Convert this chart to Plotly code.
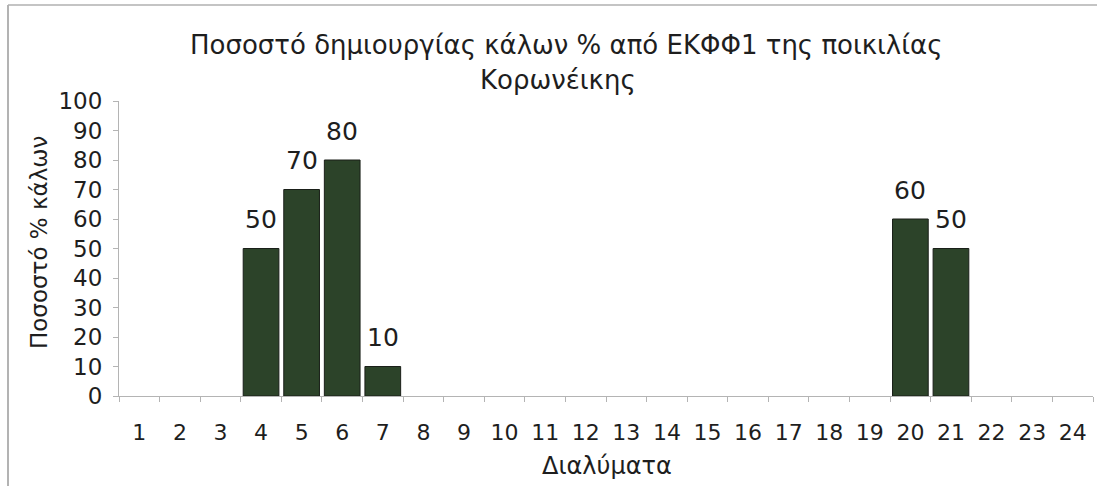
import plotly.graph_objects as go

# Solutions 1..24 and the percentage of callus formation for each
solutions = [str(i) for i in range(1, 25)]
callus_pct = [0, 0, 0, 50, 70, 80, 10, 0, 0, 0, 0, 0,
              0, 0, 0, 0, 0, 0, 0, 60, 50, 0, 0, 0]
y_ticks = list(range(0, 101, 10))

title_line1 = "Ποσοστό δημιουργίας κάλων % από ΕΚΦΦ1 της ποικιλίας"
title_line2 = "Κορωνέικης"
y_title = "Ποσοστό % κάλων"
x_title = "Διαλύματα"

W, H = 1105, 486
L, R, T, B = 119, 12, 101, 90
pw, ph = W - L - R, H - T - B

FONT = "DejaVu Sans, Verdana, sans-serif"
INK = "#1e1e1e"
AXIS = "#b4b4b4"

fig = go.Figure(
    go.Bar(
        x=solutions,
        y=callus_pct,
        marker=dict(
            color="#2c4329",
            line=dict(color="#1a1f19",
                      width=[1 if v else 0 for v in callus_pct]),
        ),
        width=0.88,
        hoverinfo="x+y",
    )
)

# Value labels above the non-zero bars (category axis: x is the category index)
for i, v in enumerate(callus_pct):
    if v:
        fig.add_annotation(x=i, y=v, text=str(v), showarrow=False,
                           xanchor="center", yanchor="middle", yshift=29,
                           font=dict(family=FONT, size=25, color=INK))

fig.update_layout(
    width=W,
    height=H,
    margin=dict(l=L, r=R, t=T, b=B),
    paper_bgcolor="white",
    plot_bgcolor="white",
    showlegend=False,
    font=dict(family=FONT, color=INK),
)

fig.update_xaxes(
    type="category",
    tickson="boundaries",
    ticks="outside",
    ticklen=5,
    tickcolor=AXIS,
    showline=True,
    linecolor=AXIS,
    linewidth=1,
    showgrid=False,
    tickfont=dict(family=FONT, size=22, color=INK),
    ticklabelstandoff=17,
)

fig.update_yaxes(
    range=[0, 100],
    tickvals=y_ticks,
    ticks="outside",
    ticklen=5,
    tickcolor=AXIS,
    showline=True,
    linecolor=AXIS,
    linewidth=1,
    showgrid=False,
    zeroline=False,
    tickfont=dict(family=FONT, size=23, color=INK),
    ticklabelstandoff=6,
)

# Title lines, axis titles
def paper_note(text, px, py, size, angle=0):
    fig.add_annotation(text=text, xref="paper", yref="paper",
                       x=(px - L) / pw, y=(H - B - py) / ph,
                       xanchor="center", yanchor="middle",
                       showarrow=False, textangle=angle,
                       font=dict(family=FONT, size=size, color=INK))

paper_note(title_line1, 566, 45, 26)
paper_note(title_line2, 558, 80, 26)
paper_note(y_title, 39, 243, 23, angle=-90)
paper_note(x_title, 607, 466, 24)

# Chart frame (left and top edges)
fx0, fy0 = (8 - L) / pw, (H - B - 5) / ph
fig.add_shape(type="line", xref="paper", yref="paper",
              x0=fx0, x1=fx0, y0=(H - B - H) / ph, y1=fy0,
              line=dict(color="#9a9a9a", width=1.5))
fig.add_shape(type="line", xref="paper", yref="paper",
              x0=fx0, x1=(W - 8 - L) / pw, y0=fy0, y1=fy0,
              line=dict(color="#b0b0b0", width=1.5))

fig.write_html("out.html")
